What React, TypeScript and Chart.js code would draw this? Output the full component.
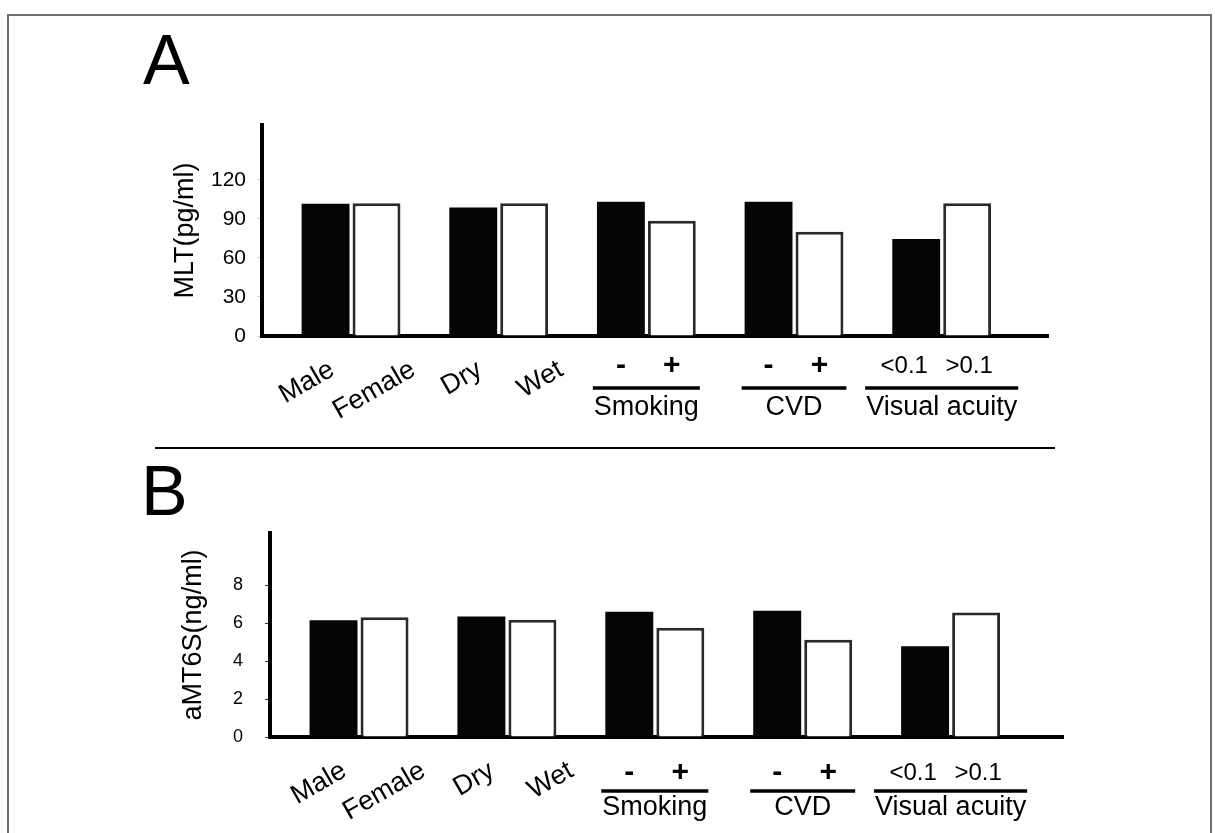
import React, { useEffect, useRef } from 'react';
import { Chart, registerables } from 'chart.js';

Chart.register(...registerables);

const FONT = '"Liberation Sans", Arial, Helvetica, sans-serif';

// ---- data ----
const firstLabels = ['Male', 'Dry', '-', '-', '<0.1'];
const secondLabels = ['Female', 'Wet', '+', '+', '>0.1'];
const groupNames = ['', '', 'Smoking', 'CVD', 'Visual acuity'];
const rotatedGroups = [true, true, false, false, false];

const mltFirst = [101.5, 98.7, 103, 103, 74.4];
const mltSecond = [102, 102, 88.5, 80, 102];
const mltTicks = [0, 30, 60, 90, 120];

const amtFirst = [6.14, 6.34, 6.6, 6.65, 4.78];
const amtSecond = [6.31, 6.17, 5.75, 5.12, 6.56];
const amtTicks = [0, 2, 4, 6, 8];

const groupLabelPlugin = {
  id: 'groupLabels',
  afterDraw(chart: any, _args: any, opts: any) {
    const ctx = chart.ctx as CanvasRenderingContext2D;
    const m0 = chart.getDatasetMeta(0);
    const m1 = chart.getDatasetMeta(1);
    const bottom = chart.chartArea.bottom;
    ctx.save();
    ctx.fillStyle = '#000';
    for (let i = 0; i < groupNames.length; i++) {
      const b0 = m0.data[i];
      const b1 = m1.data[i];
      const pair: [any, string][] = [
        [b0, firstLabels[i]],
        [b1, secondLabels[i]],
      ];
      if (rotatedGroups[i]) {
        ctx.font = `${opts.rotSize}px ${FONT}`;
        ctx.textAlign = 'right';
        ctx.textBaseline = 'top';
        pair.forEach(([bar, text], k) => {
          ctx.save();
          ctx.translate(bar.x + opts.rotShift[k], bottom + opts.rotTop);
          ctx.rotate((-opts.rotAngle * Math.PI) / 180);
          ctx.fillText(text, 0, 0);
          ctx.restore();
        });
      } else {
        ctx.textBaseline = 'middle';
        pair.forEach(([bar, text], k) => {
          const sign = text === '-' || text === '+';
          ctx.font = sign ? `bold ${opts.signSize}px ${FONT}` : `${opts.subSize}px ${FONT}`;
          ctx.textAlign = 'center';
          ctx.fillText(text, bar.x + (sign ? 0 : opts.subShift[k]), bottom + opts.subY);
        });
        ctx.textAlign = 'center';
        ctx.font = `${opts.nameSize}px ${FONT}`;
        const left = b0.x - b0.width / 2;
        const right = b1.x + b1.width / 2;
        const center = (left + right) / 2;
        const tw = ctx.measureText(groupNames[i]).width;
        const w = Math.max(right - left + 6, tw + 2);
        ctx.fillRect(center - w / 2, bottom + opts.lineY - 1.75, w, 3.5);
        ctx.fillText(groupNames[i], center, bottom + opts.nameY);
      }
    }
    ctx.restore();
  },
};

function makeConfig(first: number[], second: number[], ticks: number[], max: number, o: any): any {
  return {
    type: 'bar',
    data: {
      datasets: [
        {
          data: first.map((y, i) => ({ x: i, y })),
          backgroundColor: '#050505',
          borderWidth: 0,
          categoryPercentage: 0.69,
          barPercentage: 0.94,
        },
        {
          data: second.map((y, i) => ({ x: i, y })),
          backgroundColor: '#ffffff',
          borderColor: '#2a2a2a',
          borderWidth: 3,
          categoryPercentage: 0.69,
          barPercentage: 0.94,
        },
      ],
    },
    options: {
      animation: false,
      responsive: false,
      maintainAspectRatio: false,
      layout: { padding: { left: o.padLeft, right: o.padRight, top: o.padTop, bottom: 0 } },
      plugins: {
        legend: { display: false },
        tooltip: { enabled: false },
        title: { display: false },
        groupLabels: o.labels,
      },
      scales: {
        x: {
          type: 'linear',
          min: o.xMin,
          max: o.xMax,
          offset: false,
          afterBuildTicks: (s: any) => {
            s.ticks = first.map((_, i) => ({ value: i }));
          },
          afterFit: (s: any) => {
            s.height = o.xHeight;
          },
          ticks: { display: false },
          grid: { display: false },
          border: { display: true, color: '#000', width: 4 },
        },
        y: {
          min: 0,
          max,
          afterBuildTicks: (s: any) => {
            s.ticks = ticks.map((v) => ({ value: v }));
          },
          afterFit: (s: any) => {
            s.width = o.yWidth;
          },
          ticks: {
            color: '#000',
            padding: o.tickPad,
            font: { family: FONT, size: o.tickSize },
          },
          grid: {
            display: true,
            drawOnChartArea: false,
            drawTicks: true,
            tickLength: 5,
            color: o.tickColor,
            lineWidth: 1,
          },
          border: { display: true, color: '#000', width: 4 },
          title: {
            display: true,
            text: o.title,
            color: '#000',
            padding: 0,
            font: { family: FONT, size: o.titleSize, lineHeight: 1 },
          },
        },
      },
    },
    plugins: [groupLabelPlugin],
  };
}

function BarPanel(props: { config: any; top: number; height: number }) {
  const ref = useRef<HTMLCanvasElement | null>(null);
  useEffect(() => {
    if (!ref.current) return;
    const chart = new Chart(ref.current, props.config);
    return () => chart.destroy();
  }, []);
  return (
    <canvas
      ref={ref}
      width={1215}
      height={props.height}
      style={{ position: 'absolute', left: 0, top: props.top, width: 1215, height: props.height, display: 'block' }}
    />
  );
}

const labelOpts = {
  rotSize: 27,
  rotAngle: 30,
  rotShift: [0, 30],
  rotTop: 20,
  signSize: 30,
  subSize: 24,
  subShift: [-12, 2],
  subY: 30,
  lineY: 52,
  nameSize: 27,
  nameY: 72,
};

const configA = makeConfig(mltFirst, mltSecond, mltTicks, 162, {
  padLeft: 172,
  padRight: 167,
  padTop: 25,
  xHeight: 104,
  yWidth: 90,
  xMin: -0.603,
  xMax: 4.72,
  tickPad: 11,
  tickSize: 21,
  tickColor: '#d4d4d4',
  title: 'MLT(pg/ml)',
  titleSize: 27,
  labels: labelOpts,
});

const configB = makeConfig(amtFirst, amtSecond, amtTicks, 10.75, {
  padLeft: 180,
  padRight: 152,
  padTop: 26,
  xHeight: 96,
  yWidth: 90,
  xMin: -0.602,
  xMax: 4.76,
  tickPad: 22,
  tickSize: 18,
  tickColor: '#333',
  title: 'aMT6S(ng/ml)',
  titleSize: 27,
  labels: { ...labelOpts, rotShift: [4, 32], subY: 36, lineY: 54, nameY: 71 },
});

export default function App() {
  const letter: React.CSSProperties = {
    position: 'absolute',
    fontFamily: FONT,
    fontSize: 70,
    lineHeight: '70px',
    color: '#000',
    margin: 0,
  };
  return (
    <div
      style={{
        position: 'absolute',
        left: 0,
        top: 0,
        width: 1215,
        height: 833,
        overflow: 'hidden',
        background: '#fff',
      }}
    >
      <div
        style={{
          position: 'absolute',
          left: 7,
          top: 14,
          width: 1201,
          height: 900,
          border: '2px solid #6f6f6f',
        }}
      />
      <BarPanel config={configA} top={100} height={340} />
      <BarPanel config={configB} top={500} height={333} />
      <div style={{ ...letter, left: 143, top: 25 }}>A</div>
      <div style={{ ...letter, left: 141, top: 456 }}>B</div>
      <div style={{ position: 'absolute', left: 155, top: 447, width: 900, height: 2, background: '#000' }} />
    </div>
  );
}
